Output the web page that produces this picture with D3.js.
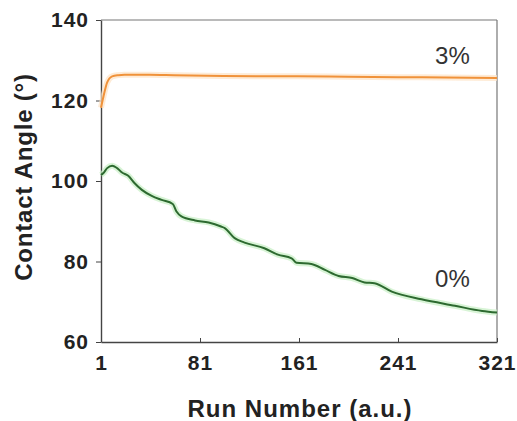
<!DOCTYPE html>
<html>
<head>
<meta charset="utf-8">
<script src="https://cdn.jsdelivr.net/npm/d3@7"></script>
<style>
  body { margin: 0; background: #fff; }
  text { font-family: "Liberation Sans", Arial, sans-serif; }
</style>
</head>
<body>
<div id="chart"></div>
<script>
// values
var runs_3 = [1, 3, 6, 10, 15, 20, 40, 60, 100, 160, 200, 241, 280, 321];
var angle_3 = [118.2, 121.0, 124.5, 126.0, 126.3, 126.4, 126.4, 126.3, 126.1, 126.0, 125.9, 125.8, 125.7, 125.6];

var runs_0 = [1, 3, 6, 10, 14, 18, 23, 28, 34, 42, 50, 59, 62, 66, 77, 88, 98, 101, 109, 117, 133, 144, 155, 159, 171, 182, 193, 204, 214, 222, 236, 260, 287, 309, 321];
var angle_0 = [101.5, 102.0, 103.2, 103.8, 103.2, 102.1, 101.3, 99.5, 97.8, 96.3, 95.3, 94.3, 92.4, 91.2, 90.2, 89.7, 88.7, 88.3, 85.8, 84.7, 83.3, 81.7, 80.8, 79.7, 79.4, 77.9, 76.4, 75.9, 74.8, 74.6, 72.5, 70.6, 69.0, 67.7, 67.3];

var x_ticks = [1, 81, 161, 241, 321];
var y_ticks = [60, 80, 100, 120, 140];

var margin = {top: 20, right: 20, bottom: 79, left: 101},
    width = 517 - margin.left - margin.right,
    height = 421 - margin.top - margin.bottom;

var svg = d3.select("#chart")
    .append("svg")
    .attr("width", 517)
    .attr("height", 421)
    .append("g")
    .attr("transform", "translate(" + margin.left + "," + margin.top + ")");

var x = d3.scaleLinear().domain([1, 321]).range([0, width]);
var y = d3.scaleLinear().domain([60, 140]).range([height, 0]);

// frame (top and right)
svg.append("line").attr("x1", 0).attr("x2", width).attr("y1", 0).attr("y2", 0)
    .attr("stroke", "#777").attr("stroke-width", 1.2);
svg.append("line").attr("x1", width).attr("x2", width).attr("y1", 0).attr("y2", height)
    .attr("stroke", "#777").attr("stroke-width", 1.2);

// x axis, ticks pointing inward
var xAxis = svg.append("g")
    .attr("transform", "translate(0," + height + ")")
    .call(d3.axisBottom(x).tickValues(x_ticks).tickSizeInner(-4).tickSizeOuter(0).tickPadding(13));
xAxis.selectAll("text")
    .style("font-size", "21px")
    .style("font-weight", "bold")
    .style("letter-spacing", "1px")
    .attr("fill", "#222");

var yAxis = svg.append("g")
    .call(d3.axisLeft(y).tickValues(y_ticks).tickSizeInner(5).tickSizeOuter(0).tickPadding(7));
yAxis.selectAll("text")
    .style("font-size", "21px")
    .style("font-weight", "bold")
    .style("letter-spacing", "1px")
    .attr("fill", "#222");

svg.selectAll(".domain").attr("stroke", "#444").attr("stroke-width", 1.4);
svg.selectAll(".tick line").attr("stroke", "#444");

var line = d3.line()
    .x(d => x(d[0]))
    .y(d => y(d[1]))
    .curve(d3.curveMonotoneX);

var series = [
    {runs: runs_3, vals: angle_3, color: "#f0923a", glow: "#fde3c4"},
    {runs: runs_0, vals: angle_0, color: "#2d6a30", glow: "#c8efc5"}
];

series.forEach(function (s) {
    var pts = s.runs.map((r, i) => [r, s.vals[i]]);
    svg.append("path")
        .datum(pts)
        .attr("d", line)
        .attr("fill", "none")
        .attr("stroke", s.glow)
        .attr("stroke-width", 6)
        .attr("stroke-opacity", 0.7);
    svg.append("path")
        .datum(pts)
        .attr("d", line)
        .attr("fill", "none")
        .attr("stroke", s.color)
        .attr("stroke-width", 2);
});

// series labels
svg.append("text")
    .attr("x", x(285))
    .attr("y", y(129.1))
    .attr("text-anchor", "middle")
    .style("font-size", "24px")
    .attr("fill", "#333")
    .text("3%");

svg.append("text")
    .attr("x", x(285))
    .attr("y", y(73.7))
    .attr("text-anchor", "middle")
    .style("font-size", "24px")
    .attr("fill", "#333")
    .text("0%");

// axis titles
svg.append("text")
    .attr("x", width / 2 + 1)
    .attr("y", height + 75)
    .attr("text-anchor", "middle")
    .style("font-size", "24px")
    .style("font-weight", "bold")
    .style("letter-spacing", "1px")
    .attr("fill", "#222")
    .text("Run Number (a.u.)");

svg.append("text")
    .attr("transform", "translate(-69," + (height / 2 - 4) + ")rotate(-90)")
    .attr("text-anchor", "middle")
    .style("font-size", "24px")
    .style("font-weight", "bold")
    .style("letter-spacing", "0.8px")
    .attr("fill", "#222")
    .text("Contact Angle (°)");
</script>
</body>
</html>
